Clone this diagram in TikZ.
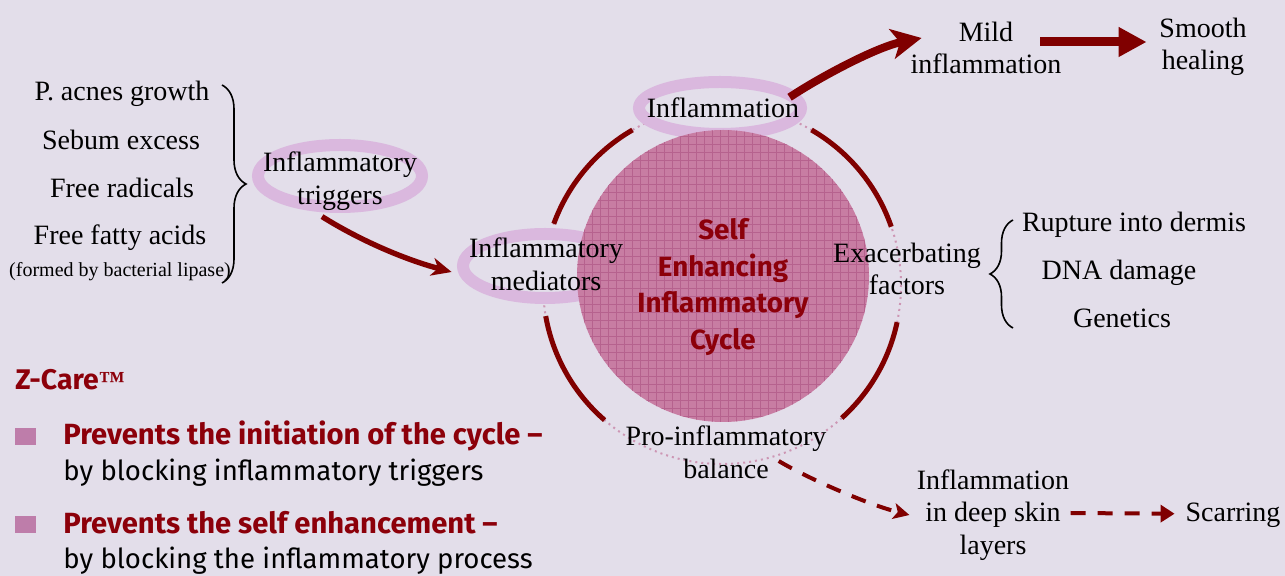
\documentclass[tikz,border=0pt]{standalone}
\usepackage{fontspec}
\setmainfont{Liberation Serif}
\newfontfamily\comic{Fira Sans}
\usetikzlibrary{arrows.meta,decorations.pathreplacing}
\definecolor{bg}{RGB}{227,222,234}
\definecolor{dred}{RGB}{128,0,0}
\definecolor{tred}{RGB}{140,0,10}
\definecolor{bandc}{RGB}{218,184,222}
\definecolor{disc}{RGB}{200,125,163}
\definecolor{discgrid}{RGB}{182,98,142}
\definecolor{faint}{RGB}{205,150,180}
\definecolor{bulletc}{RGB}{190,125,170}
\begin{document}
\begin{tikzpicture}[x=0.5pt,y=-0.5pt,
  lbl/.style={font=\fontsize{14}{16.3}\selectfont, align=center, inner sep=2pt},
  smalllbl/.style={font=\fontsize{10}{12}\selectfont, inner sep=2pt},
  ringarc/.style={draw=dred, line width=2.5pt},
  bandell/.style={draw=bandc, line width=6pt, fill=bg},
  arrowA/.style={draw=dred, line width=2.7pt, -{Stealth[length=10pt,width=9pt,inset=3pt]}},
  arrowB/.style={draw=dred, line width=4pt, -{Stealth[length=15pt,width=15pt,inset=4pt]}},
  arrowC/.style={draw=dred, line width=4.5pt, -{Triangle[length=14pt,width=14pt]}},
  dasharrow/.style={draw=dred, line width=2pt, dash pattern=on 7.5pt off 6pt},
  bracestyle/.style={draw=black, line width=0.8pt, decorate},
  boldtxt/.style={font=\comic\bfseries\fontsize{14.6}{16}\selectfont, text=tred, inner sep=0pt, anchor=base west},
  regtxt/.style={font=\comic\fontsize{13.8}{15}\selectfont, text=black, inner sep=0pt, anchor=base west}
]
\useasboundingbox (0,0) rectangle (1285,576);
\fill[bg] (0,0) rectangle (1285,576);

% faint dotted ring
\draw[faint, dotted, line width=1pt] (722,285) circle[radius=179];
% ring arcs
\draw[ringarc] (722,285) ++(-19:179) arc[start angle=-19, end angle=-60, radius=179];
\draw[ringarc] (722,285) ++(-120:179) arc[start angle=-120, end angle=-160, radius=179];
\draw[ringarc] (722,285) ++(-190:179) arc[start angle=-190, end angle=-229, radius=179];
\draw[ringarc] (722,285) ++(-312:179) arc[start angle=-312, end angle=-348, radius=179];

% ellipses
\draw[bandell] (720,108) ellipse[x radius=81, y radius=26];
\draw[bandell] (340,176) ellipse[x radius=82, y radius=31];
\draw[bandell] (545,266) ellipse[x radius=82, y radius=32];

% disc
\fill[disc] (723,276) circle[radius=146];
\begin{scope}
\clip (723,276) circle[radius=146];
\draw[discgrid, line width=0.3pt, step=4pt] (560,120) grid (890,430);
\end{scope}
\node[font=\comic\bfseries\fontsize{13.9}{18.3}\selectfont, text=tred, align=center] (cyc) at (723,287) {Self\\Enhancing\\Inflammatory\\Cycle};

% cycle labels
\node[lbl, anchor=base] (infl) at (723,118) {Inflammation};
\node[lbl] (trig) at (340,181) {Inflammatory\\triggers};
\node[lbl] (med) at (546,264) {Inflammatory\\mediators};
\node[lbl] (exac) at (907,269) {Exacerbating\\factors};
\node[lbl] (pro) at (726,452) {Pro-inflammatory\\balance};
\node[lbl] (mild) at (986,48) {Mild\\inflammation};
\node[lbl] (smooth) at (1203,47) {Smooth\\healing};
\node[lbl] (deep) at (993,515) {Inflammation\\in deep skin\\layers};
\node[lbl, anchor=base] (scar) at (1233,522) {Scarring};

% left list
\node[lbl, anchor=base] (pacnes) at (122,101) {P. acnes growth};
\node[lbl, anchor=base] (sebum) at (121,150) {Sebum excess};
\node[lbl, anchor=base] (radicals) at (122,198) {Free radicals};
\node[lbl, anchor=base] (ffa) at (120,245) {Free fatty acids};
\node[smalllbl, anchor=base] (lipase) at (120,277) {(formed by bacterial lipase)};
\draw[bracestyle, decoration={brace, amplitude=12pt}] (222,85) -- (222,283);

% right list
\node[lbl, anchor=base] (rupture) at (1134,232) {Rupture into dermis};
\node[lbl, anchor=base] (dna) at (1119,280) {DNA damage};
\node[lbl, anchor=base] (genetics) at (1122,328) {Genetics};
\draw[bracestyle, decoration={brace, amplitude=11.5pt}] (1013,328) -- (1013,220);

% arrows
\draw[arrowA] ([xshift=-9pt,yshift=-1pt]trig.south) .. controls +(40,25) and +(-45,-12) .. ([xshift=-6.5pt,yshift=-4pt]med.west);
\draw[arrowB] ([xshift=-7pt,yshift=5.5pt]infl.east) .. controls +(30,-20) and +(-45,9) .. ([xshift=7.7pt,yshift=5pt]mild.west);
\draw[arrowC] ([xshift=-12.7pt,yshift=3pt]mild.east) -- ([xshift=-4.2pt,yshift=2.5pt]smooth.west);
\draw[dasharrow, -{Stealth[length=8pt,width=8pt,inset=2pt]}] ([xshift=-26pt,yshift=-4.5pt]pro.east) .. controls +(30,18) and +(-40,-10) .. ([xshift=-1.5pt]deep.west);
\draw[dasharrow, -{Triangle[length=7pt,width=8.5pt]}] ([xshift=-1.5pt,yshift=1pt]deep.east) -- ([xshift=-3.3pt,yshift=1pt]scar.west);

% Z-Care block
\node[font=\comic\bfseries\fontsize{14.2}{15}\selectfont, text=tred, inner sep=0pt, anchor=base west] (zcare) at (15,390) {Z-Care{\rmfamily\fontsize{13}{14}\selectfont ™}};
\fill[bulletc] (15,428) rectangle (36,445);
\fill[bulletc] (15,516) rectangle (36,533);
\node[boldtxt] (b1) at (63,445) {Prevents the initiation of the cycle –};
\node[regtxt] (b1r) at (63,481) {by blocking inflammatory triggers};
\node[boldtxt] (b2) at (63,534) {Prevents the self enhancement –};
\node[regtxt] (b2r) at (63,569) {by blocking the inflammatory process};
\end{tikzpicture}
\end{document}
